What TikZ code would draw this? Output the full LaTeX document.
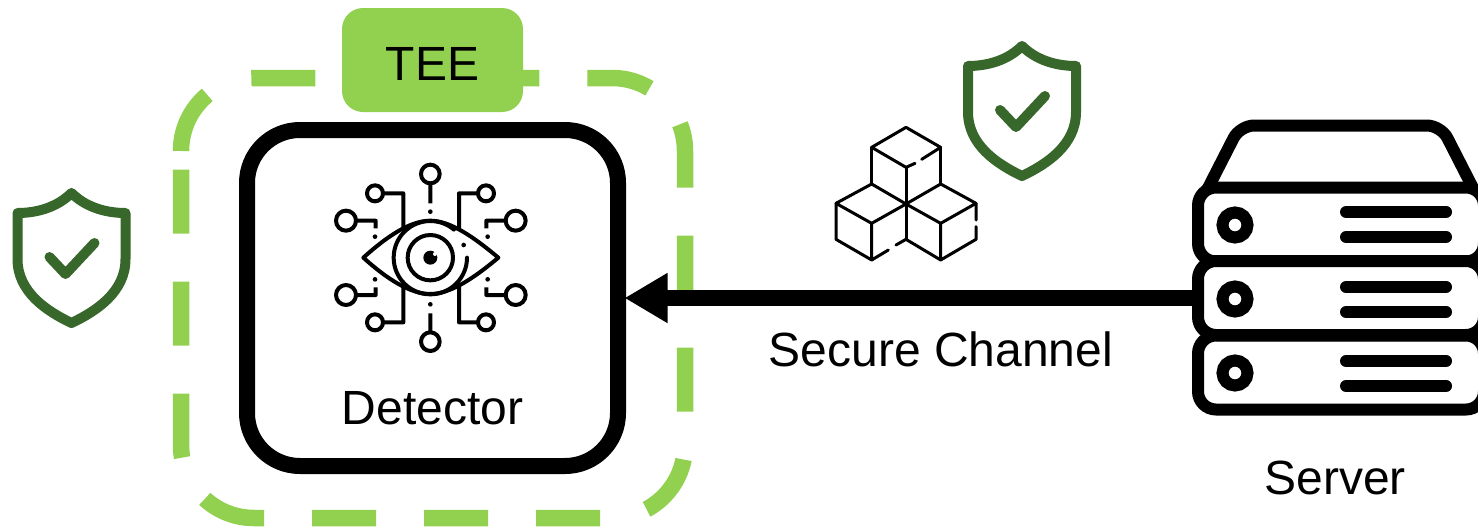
\documentclass[tikz,border=0pt]{standalone}
\usepackage{fontspec}
\setmainfont{Liberation Sans}
\usetikzlibrary{arrows.meta}
\definecolor{teegreen}{HTML}{92D050}
\definecolor{shieldgreen}{HTML}{37672B}
\tikzset{x=1pt,y=-1pt,>={Triangle[length=43pt,width=47pt]},
  lbl/.style={anchor=base,inner sep=0pt,font=\fontsize{48}{56}\selectfont},
  teeline/.style={draw=teegreen,line width=16.5pt,dash pattern=on 64pt off 48pt},
  teetag/.style={fill=teegreen,rounded corners=21pt,minimum width=181pt,minimum height=104pt,inner sep=0pt},
  detbox/.style={draw=black,fill=white,line width=16pt,rounded corners=53pt,minimum width=371pt,minimum height=336pt,inner sep=0pt},
  rack/.style={draw=black,fill=white,line width=12pt,rounded corners=18pt,minimum width=286pt,minimum height=74pt,inner sep=0pt},
  flow/.style={->,line width=16pt,shorten >=-1.5pt},
  bar/.style={line width=12pt,line cap=round},
  wire/.style={line width=4pt,line join=round},
  cube/.style={line width=3pt,line cap=round,line join=round},
  shield/.pic={
    \draw[shieldgreen,line width=10pt,line join=round] (0,6) .. controls (-14,20) and (-34,26) .. (-54,26)
      -- (-54,72) .. controls (-54,105) and (-25,124) .. (0,136)
      .. controls (25,124) and (54,105) .. (54,72) -- (54,26)
      .. controls (34,26) and (14,20) .. (0,6) -- cycle;
    \draw[shieldgreen,line width=10pt,line cap=round,line join=round] (-22,70) -- (-6,87) -- (23,56);
  }}

\begin{document}
\begin{tikzpicture}
  \useasboundingbox (0,0) rectangle (1478,528);

  % enclave
  \draw[teeline] (181,151) arc[start angle=180,end angle=270,radius=73]
    -- (612,78) arc[start angle=-90,end angle=0,radius=73]
    -- (685,445) arc[start angle=0,end angle=90,radius=73]
    -- (254,518) arc[start angle=90,end angle=180,radius=73] -- (181,151);
  \node[teetag] (tee) at (432.5,60) {};
  \node[lbl] (teelabel) at (432.5,80) {TEE};
  \node[detbox] (det) at (432.5,298) {};
  \node[lbl] (detlabel) at (432.5,424) {Detector};

  % server
  \draw[line width=12pt,line join=round,rounded corners=14pt] (1206,192) -- (1240,125.5) -- (1441,125.5) -- (1475,192);
  \node[rack] (rack1) at (1341,224.5) {};
  \node[rack] (rack3) at (1341,372.5) {};
  \node[rack] (rack2) at (1341,298) {};
  \node[lbl] (serverlabel) at (1335,494) {Server};
  \draw[line width=12pt] (1235,225) circle (12.5);
  \draw[line width=12pt] (1235,299) circle (12.5);
  \draw[line width=12pt] (1235,373) circle (12.5);
  \draw[bar] (1346,212) -- (1446,212);
  \draw[bar] (1346,237) -- (1446,237);
  \draw[bar] (1346,287) -- (1446,287);
  \draw[bar] (1346,312) -- (1446,312);
  \draw[bar] (1346,361) -- (1446,361);
  \draw[bar] (1346,386) -- (1446,386);

  \path (rack2.west) edge[flow] (det.east);
  \node[lbl] (channel) at (941,366) {Secure Channel};

  % shields
  \pic at (71.5,187) {shield};
  \pic at (1022,40) {shield};

  % cubes
  \begin{scope}[shift={(820,30)},scale=1/3]
    \draw[cube] (155,352) -- (258,292) -- (362,352) (155,352) -- (258,412) -- (285,400) (305,388) -- (362,352);
    \draw[cube] (155,352) -- (155,462) (362,352) -- (362,462) (258,412) -- (258,628);
    \draw[cube] (155,462) -- (48,520) -- (155,580) -- (258,522) -- (155,462);
    \draw[cube] (48,520) -- (48,628) -- (155,690) -- (155,580) (155,690) -- (205,660) (228,645) -- (258,628);
    \draw[cube] (362,462) -- (468,520) -- (362,580) -- (258,522) -- (362,462);
    \draw[cube] (468,520) -- (468,570) (468,590) -- (468,628) -- (362,690) -- (362,580) (362,690) -- (258,628);
  \end{scope}

  % eye
  \begin{scope}[shift={(320,150)},scale=1/3]
    \draw[wire] (331,72) circle (28) (331,100) -- (331,160);
    \fill (331,185) circle (7);
    \draw[wire] (331,575) circle (28) (331,547) -- (331,490);
    \fill (331,463) circle (7);
    \draw[wire] (165,130) circle (24) (189,130) -- (250,130) -- (250,235);
    \draw[wire] (498,130) circle (24) (474,130) -- (417,130) -- (417,235);
    \draw[wire] (165,517) circle (24) (189,517) -- (250,517) -- (250,405);
    \draw[wire] (498,517) circle (24) (474,517) -- (417,517) -- (417,405);
    \draw[wire] (78,212) circle (30) (108,212) -- (167,212) -- (167,235);
    \fill (165,260) circle (7);
    \draw[wire] (587,212) circle (30) (557,212) -- (499,212) -- (499,235);
    \fill (503,260) circle (7);
    \draw[wire] (78,435) circle (30) (108,435) -- (167,435) -- (167,412);
    \fill (165,388) circle (7);
    \draw[wire] (587,435) circle (30) (557,435) -- (499,435) -- (499,412);
    \fill (503,388) circle (7);
    \draw[wire] (130,323) .. controls (200,260) and (270,212) .. (331,212)
      .. controls (390,212) and (460,260) .. (535,323)
      .. controls (460,386) and (390,432) .. (331,432)
      .. controls (270,432) and (200,386) .. (130,323) -- cycle;
    \draw[wire,line cap=round] (441,323) arc[start angle=0,end angle=310,radius=110];
    \fill (431,285) circle (7);
    \draw[wire] (331,323) circle (68);
    \fill (331,323) circle (21);
    \fill[white] (345,312) circle (6);
  \end{scope}
\end{tikzpicture}
\end{document}
